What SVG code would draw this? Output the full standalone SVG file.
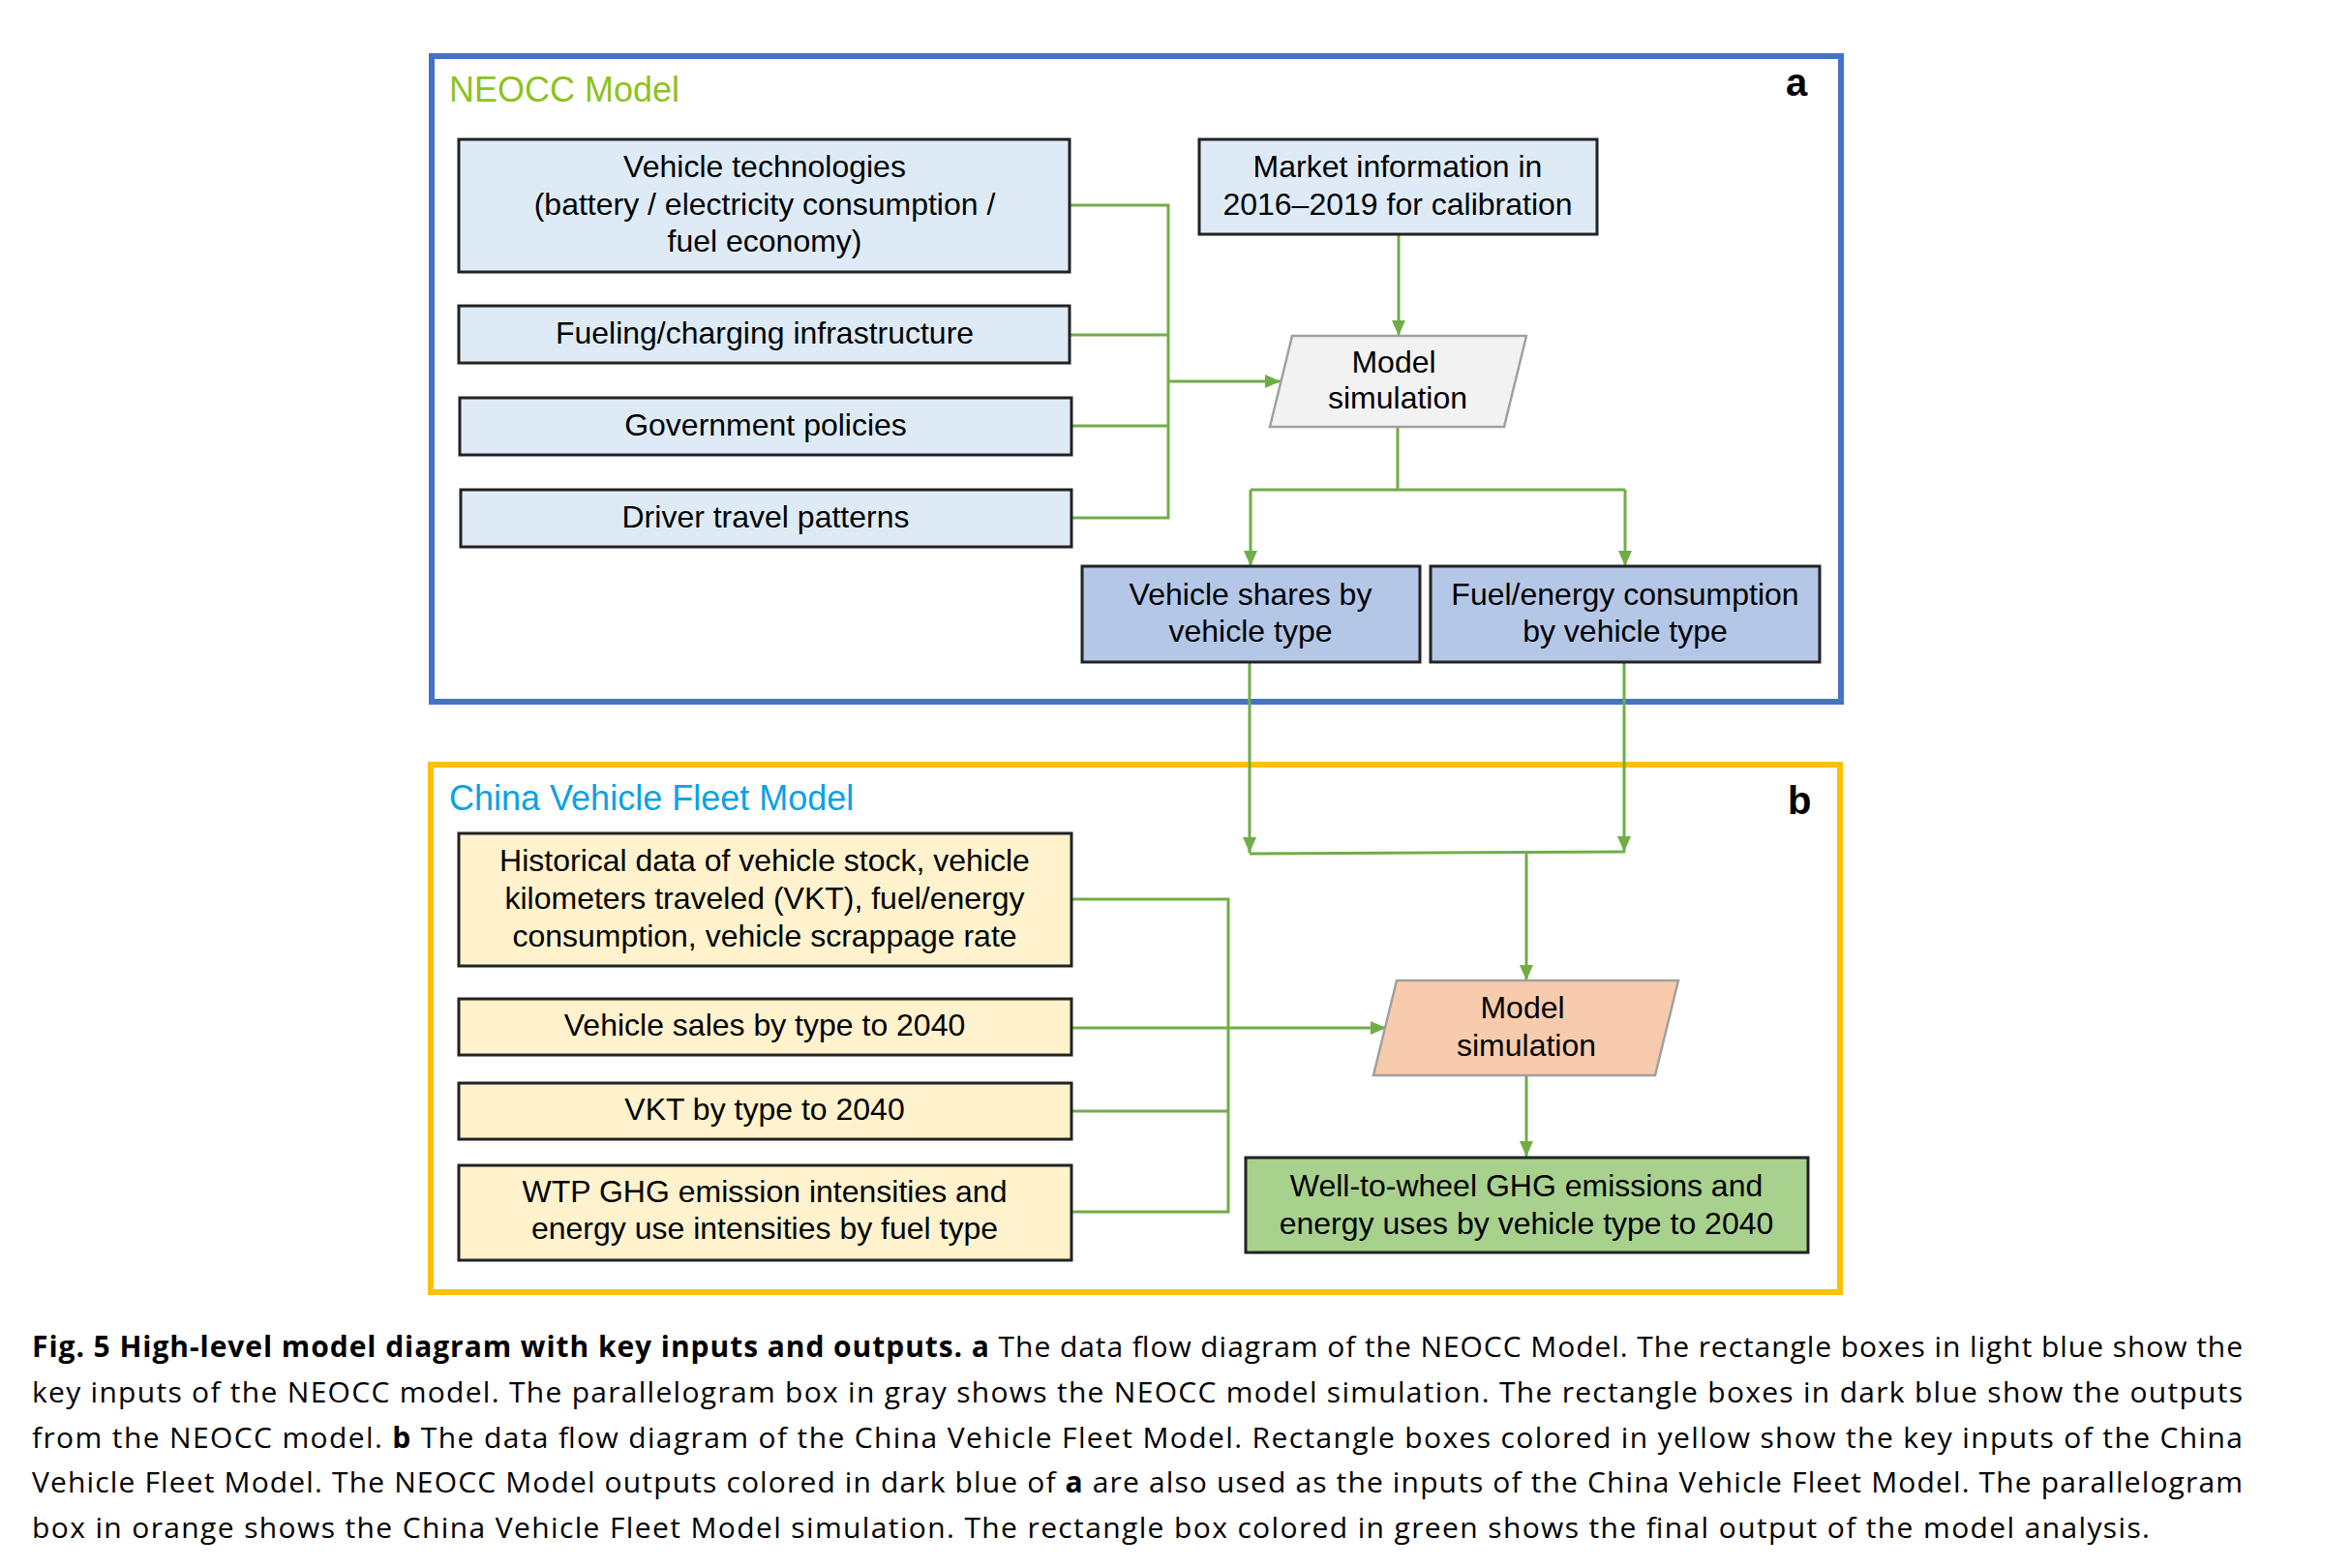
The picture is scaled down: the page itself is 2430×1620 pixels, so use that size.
<svg xmlns="http://www.w3.org/2000/svg" width="2430" height="1620" viewBox="0 0 2430 1620">
<defs>
<marker id="arr" viewBox="0 0 16 14" refX="16" refY="7" markerWidth="16" markerHeight="14" markerUnits="userSpaceOnUse" orient="auto">
<path d="M0,0 L16,7 L0,14 z" fill="#70AD47"/>
</marker>
</defs>
<style>
.box{stroke:#222;stroke-width:3}
.lb{fill:#DEEBF7}.db{fill:#B4C7E7}.yl{fill:#FFF2CC}.gr{fill:#A9D18E}
.par{stroke:#A0A0A0;stroke-width:2.5}
.t{font-family:"Liberation Sans",Arial,sans-serif;font-size:32px;fill:#000;text-anchor:middle}
.con{fill:none;stroke:#70AD47;stroke-width:3}
.cap{font-family:"Open Sans","Noto Sans",sans-serif;font-size:30px;fill:#000}
.bd{font-weight:bold}
</style>
<rect width="2430" height="1620" fill="#fff"/>
<g id="frame-a">
<rect x="446" y="58" width="1456" height="667" fill="none" stroke="#4472C4" stroke-width="6"/>
<text x="464" y="105" font-family="Liberation Sans,Arial,sans-serif" font-size="36" fill="#8DC21F">NEOCC Model</text>
<text x="1845" y="99" font-family="Liberation Sans,Arial,sans-serif" font-size="40" font-weight="bold">a</text>
</g>
<g id="frame-b">
<rect x="445" y="790" width="1456" height="545" fill="none" stroke="#FFC000" stroke-width="6"/>
<text x="464" y="837" font-family="Liberation Sans,Arial,sans-serif" font-size="36" fill="#0AA2E2">China Vehicle Fleet Model</text>
<text x="1847" y="841" font-family="Liberation Sans,Arial,sans-serif" font-size="40" font-weight="bold">b</text>
</g>
<g id="connectors">
<path class="con" d="M1105,212 H1207 V535 H1107 M1105,346 H1207 M1107,440 H1207"/>
<path class="con" d="M1207,394 H1323" marker-end="url(#arr)"/>
<path class="con" d="M1445,242 V347" marker-end="url(#arr)"/>
<path class="con" d="M1444,441 V506 M1292,506 H1679"/>
<path class="con" d="M1292,506 V585" marker-end="url(#arr)"/>
<path class="con" d="M1679,506 V585" marker-end="url(#arr)"/>
<path class="con" d="M1291,684 V881" marker-end="url(#arr)"/>
<path class="con" d="M1678,684 V880" marker-end="url(#arr)"/>
<path class="con" d="M1291,882 L1679,880"/>
<path class="con" d="M1577,881 V1013" marker-end="url(#arr)"/>
<path class="con" d="M1107,929 H1269 V1252 H1107 M1107,1148 H1269"/>
<path class="con" d="M1107,1062 H1432" marker-end="url(#arr)"/>
<path class="con" d="M1577,1111 V1195" marker-end="url(#arr)"/>
</g>
<g id="vehicle-tech">
<rect class="box lb" x="474" y="144" width="631" height="137"/>
<text class="t" x="790" y="183">Vehicle technologies</text>
<text class="t" x="790" y="222">(battery / electricity consumption /</text>
<text class="t" x="790" y="260">fuel economy)</text>
</g>
<g id="fueling">
<rect class="box lb" x="474" y="316" width="631" height="59"/>
<text class="t" x="790" y="355">Fueling/charging infrastructure</text>
</g>
<g id="gov">
<rect class="box lb" x="475" y="411" width="632" height="59"/>
<text class="t" x="791" y="450">Government policies</text>
</g>
<g id="driver">
<rect class="box lb" x="476" y="506" width="631" height="59"/>
<text class="t" x="791" y="545">Driver travel patterns</text>
</g>
<g id="market">
<rect class="box lb" x="1239" y="144" width="411" height="98"/>
<text class="t" x="1444" y="183">Market information in</text>
<text class="t" x="1444" y="222">2016–2019 for calibration</text>
</g>
<g id="sim-a">
<polygon class="par" points="1335,347 1577,347 1554,441 1312,441" fill="#F2F2F2"/>
<text class="t" x="1440" y="385">Model</text>
<text class="t" x="1444" y="422">simulation</text>
</g>
<g id="shares">
<rect class="box db" x="1118" y="585" width="349" height="99"/>
<text class="t" x="1292" y="625">Vehicle shares by</text>
<text class="t" x="1292" y="663">vehicle type</text>
</g>
<g id="fuel">
<rect class="box db" x="1478" y="585" width="402" height="99"/>
<text class="t" x="1679" y="625">Fuel/energy consumption</text>
<text class="t" x="1679" y="663">by vehicle type</text>
</g>
<g id="historical">
<rect class="box yl" x="474" y="861" width="633" height="137"/>
<text class="t" x="790" y="900">Historical data of vehicle stock, vehicle</text>
<text class="t" x="790" y="939">kilometers traveled (VKT), fuel/energy</text>
<text class="t" x="790" y="978">consumption, vehicle scrappage rate</text>
</g>
<g id="sales">
<rect class="box yl" x="474" y="1032" width="633" height="58"/>
<text class="t" x="790" y="1070">Vehicle sales by type to 2040</text>
</g>
<g id="vkt">
<rect class="box yl" x="474" y="1119" width="633" height="58"/>
<text class="t" x="790" y="1157">VKT by type to 2040</text>
</g>
<g id="wtp">
<rect class="box yl" x="474" y="1204" width="633" height="98"/>
<text class="t" x="790" y="1242">WTP GHG emission intensities and</text>
<text class="t" x="790" y="1280">energy use intensities by fuel type</text>
</g>
<g id="sim-b">
<polygon class="par" points="1443,1013 1734,1013 1710,1111 1419,1111" fill="#F8CBAD"/>
<text class="t" x="1573" y="1052">Model</text>
<text class="t" x="1577" y="1091">simulation</text>
</g>
<g id="wtw">
<rect class="box gr" x="1287" y="1196" width="581" height="98"/>
<text class="t" x="1577" y="1236">Well-to-wheel GHG emissions and</text>
<text class="t" x="1577" y="1275">energy uses by vehicle type to 2040</text>
</g>
<g id="caption">
<text class="cap" x="33" y="1402" textLength="2284" lengthAdjust="spacing"><tspan class="bd">Fig. 5 High-level model diagram with key inputs and outputs. a</tspan> The data flow diagram of the NEOCC Model. The rectangle boxes in light blue show the</text>
<text class="cap" x="33" y="1449" textLength="2284" lengthAdjust="spacing">key inputs of the NEOCC model. The parallelogram box in gray shows the NEOCC model simulation. The rectangle boxes in dark blue show the outputs</text>
<text class="cap" x="33" y="1496" textLength="2284" lengthAdjust="spacing">from the NEOCC model. <tspan class="bd">b</tspan> The data flow diagram of the China Vehicle Fleet Model. Rectangle boxes colored in yellow show the key inputs of the China</text>
<text class="cap" x="33" y="1542" textLength="2284" lengthAdjust="spacing">Vehicle Fleet Model. The NEOCC Model outputs colored in dark blue of <tspan class="bd">a</tspan> are also used as the inputs of the China Vehicle Fleet Model. The parallelogram</text>
<text class="cap" x="33" y="1589" textLength="2188" lengthAdjust="spacing">box in orange shows the China Vehicle Fleet Model simulation. The rectangle box colored in green shows the final output of the model analysis.</text>
</g>
</svg>
